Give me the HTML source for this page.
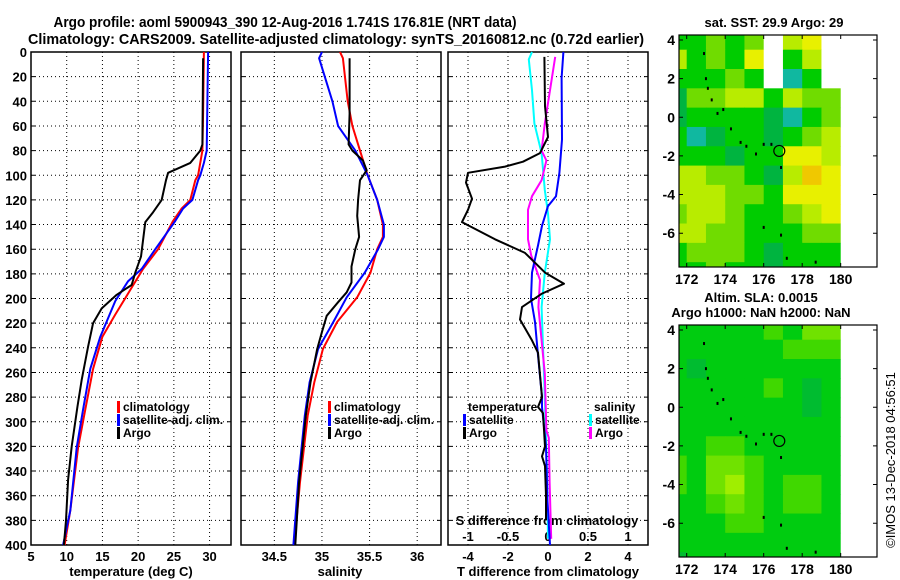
<!DOCTYPE html>
<html><head><meta charset="utf-8"><style>
html,body{margin:0;padding:0;background:#fff;}
svg{display:block;font-family:"Liberation Sans",Arial,sans-serif;}
.b{font-weight:bold;}
</style></head><body>
<svg id="fig" width="900" height="580" viewBox="0 0 900 580">
<text class="b" x="285" y="27" font-size="15" text-anchor="middle" textLength="463" lengthAdjust="spacingAndGlyphs">Argo profile: aoml 5900943_390 12-Aug-2016 1.741S 176.81E (NRT data)</text>
<text class="b" x="336" y="44" font-size="15" text-anchor="middle" textLength="616" lengthAdjust="spacingAndGlyphs">Climatology: CARS2009. Satellite-adjusted climatology: synTS_20160812.nc (0.72d earlier)</text>
<text class="b" x="131" y="576" font-size="13" text-anchor="middle">temperature (deg C)</text>
<text class="b" x="340" y="576" font-size="13" text-anchor="middle">salinity</text>
<text class="b" x="548" y="576" font-size="13" text-anchor="middle">T difference from climatology</text>
<text class="b" x="547" y="525" font-size="13" text-anchor="middle">S difference from climatology</text>
<text class="b" x="774" y="27" font-size="13" text-anchor="middle">sat. SST: 29.9 Argo: 29</text>
<text class="b" x="761" y="302" font-size="13" text-anchor="middle">Altim. SLA: 0.0015</text>
<text class="b" x="761" y="317" font-size="13" text-anchor="middle">Argo h1000: NaN h2000: NaN</text>
<text x="0" y="0" font-size="13" text-anchor="middle" transform="translate(895,460) rotate(-90)">©IMOS 13-Dec-2018 04:56:51</text>
<g id="g"></g>
</svg>
<script>
// ---- chart data ----
const depthTicks=[0,20,40,60,80,100,120,140,160,180,200,220,240,260,280,300,320,340,360,380,400];
const tempTicks=[5,10,15,20,25,30];
const salTicks=[34.5,35,35.5,36];
const salTickLabels=['34.5','35','35.5','36'];
const tdiffTicks=[-4,-2,0,2,4];
const sdiffTicks=[-1,-0.5,0,0.5,1];
const sdiffTickLabels=['-1','-0.5','0','0.5','1'];
// temperature profiles
const climTDepth=[0,50,80,100,104,120,127,137,160,176,193,213,231,257,290,321,372,400];
const climTVal=[29.2,29.1,29.0,28.4,28.0,27.3,26.1,24.9,22.8,20.7,18.9,16.8,15.0,13.7,12.6,11.6,10.5,9.7];
const satTDepth=[0,80,90,100,104,120,127,137,160,176,186,202,231,257,290,321,372,400];
const satTVal=[29.8,29.6,29.2,28.7,28.4,27.6,26.3,25.2,22.4,20.5,18.6,16.8,14.7,13.3,12.3,11.4,10.5,9.5];
const argoTDepth=[5,75,80,90,98,104,120,130,138,166,179,189,197,208,220,239,266,288,320,347,380,400];
const argoTVal=[29.1,29.0,28.7,27.3,24.2,23.9,23.3,22.1,21.0,20.4,19.6,19.1,17.0,14.9,13.7,13.0,12.1,11.5,10.7,10.2,9.9,9.6];
// salinity profiles
const climSDepth=[0,5,40,60,80,100,120,140,150,160,179,199,219,241,268,295,349,400];
const climSVal=[35.19,35.22,35.27,35.32,35.40,35.48,35.58,35.64,35.64,35.58,35.51,35.37,35.16,35.01,34.92,34.85,34.77,34.71];
const satSDepth=[0,5,20,40,60,80,100,120,140,150,160,179,199,219,241,268,295,349,400];
const satSVal=[35.0,34.97,35.03,35.11,35.17,35.35,35.48,35.58,35.65,35.65,35.59,35.45,35.26,35.12,34.96,34.87,34.82,34.75,34.70];
const argoSDepth=[5,50,75,80,88,96,104,120,133,150,160,174,187,195,203,214,227,241,268,295,349,400];
const argoSVal=[35.29,35.29,35.28,35.32,35.43,35.47,35.40,35.38,35.37,35.39,35.35,35.31,35.31,35.26,35.17,35.05,35.00,34.95,34.88,34.83,34.76,34.72];
// differences from climatology
const argoTdDepth=[4,44,69,82,89,93,98,106,119,128,138,152,163,179,188,196,207,217,234,244,280,288,293,320,328,336,360,380];
const argoTdVal=[-0.18,-0.15,0,-0.4,-1.25,-2.15,-4.0,-4.1,-3.8,-4.0,-4.3,-2.65,-1.15,-0.15,0.8,-0.3,-1.3,-1.4,-0.8,-0.5,-0.3,-0.5,-0.25,-0.15,-0.3,-0.15,-0.1,-0.1];
const satTdDepth=[0,21,71,98,117,125,141,157,179,200,219,246,280,288,320,363,400];
const satTdVal=[0.77,0.68,0.7,0.57,0.4,0,-0.3,-0.5,-0.8,-0.85,-0.65,-0.5,-0.3,-0.3,-0.1,-0.03,0.1];
const argoSdDepth=[4,31,58,80,88,104,117,128,152,165,185,207,234,261,307,313,349,395];
const argoSdVal=[0.09,0.025,-0.04,-0.08,-0.02,-0.08,-0.2,-0.25,-0.25,-0.21,-0.1,-0.12,-0.08,-0.04,-0.02,0.01,0.02,0.04];
const satSdDepth=[0,6,31,58,82,112,131,152,179,207,261,280,349,395];
const satSdVal=[-0.2,-0.24,-0.2,-0.17,-0.08,-0.04,0,0.025,-0.04,-0.08,-0.05,-0.04,-0.01,0];
// maps (1-degree cells)
const mapLons=[171.5,172.5,173.5,174.5,175.5,176.5,177.5,178.5,179.5];
const mapLats=[4,3,2,1,0,-1,-2,-3,-4,-5,-6,-7,-8];
const sstGrid=[
[1,1,2,1,2,9,3,4,9],
[3,1,2,1,4,9,1,3,9],
[1,1,1,2,1,9,-1,1,9],
[0,2,2,3,3,1,3,2,2],
[0,1,1,1,1,0,-1,1,2],
[1,-1,0,1,1,0,1,2,3],
[1,1,1,0,1,1,4,4,3],
[3,3,2,2,1,0,3,5,4],
[3,3,3,2,2,1,4,4,4],
[2,3,3,2,1,1,2,3,4],
[3,3,2,2,1,1,1,2,2],
[1,2,2,2,1,0,1,1,1],
[1,1,2,1,1,0,1,1,1]];
const slaGrid=[
[0,0,0,0,0,1,0,2,2],
[0,0,0,0,0,0,1,1,1],
[0,-1,0,0,0,0,0,0,0],
[0,0,0,0,0,1,0,-1,0],
[0,0,0,0,0,0,0,-1,0],
[0,0,0,0,0,0,0,0,0],
[0,0,1,1,0,0,0,0,0],
[1,0,2,2,1,0,0,0,0],
[1,0,2,3,1,0,1,1,0],
[0,0,1,2,1,0,1,1,0],
[0,0,0,1,1,0,0,0,0],
[0,0,0,0,0,0,0,0,0],
[-1,0,0,0,0,0,0,0,0]];
const islandLon=[172.9,173.0,173.1,173.3,173.6,173.9,174.3,174.8,175.1,175.6,176.0,176.4,176.9,176.0,176.9,177.2,178.7];
const islandLat=[3.3,2.0,1.5,0.9,0.2,0.4,-0.6,-1.3,-1.5,-1.9,-1.4,-1.4,-2.6,-5.7,-6.1,-7.3,-7.5];
const argoLon=[176.81];
const argoLat=[-1.741];

// ---- drawing ----
const NS='http://www.w3.org/2000/svg';
const G=document.getElementById('g');
function mk(tag,attrs,parent){const e=document.createElementNS(NS,tag);for(const k in attrs)e.setAttribute(k,attrs[k]);(parent||G).appendChild(e);return e;}
const TOP=52,BOT=545;
const yD=d=>TOP+d*(BOT-TOP)/400;
const x1=t=>31+(t-5)*200/28;
const x2=s=>241+(s-34.15)*200/2.1;
const x3=t=>448+(t+5)*20;
const x3s=s=>448+(s+1.25)*80;

function panel(name,L,R,xs,ticks,labels,labelY,showY){
  for(const d of depthTicks){
    const y=yD(d);
    if(d>0&&d<400){
      let e=mk('line',{x1:L,x2:R,y1:y,y2:y,stroke:'#000','stroke-width':1,'stroke-dasharray':'1 3'});
      
      
    }
    let t=mk('path',{d:`M${L},${y}h4M${R},${y}h-4`,stroke:'#000','stroke-width':1});
    
    
    if(showY){
      let lb=mk('text',{x:L-4,y:y+5,'font-size':13,'text-anchor':'end','class':'b'});
      lb.textContent=d;
      
      
    }
  }
  ticks.forEach((v,i)=>{
    const x=xs(v);
    let e=mk('line',{x1:x,x2:x,y1:TOP,y2:BOT,stroke:'#000','stroke-width':1,'stroke-dasharray':'1 3'});
    
    
    if(labels){
      let lb=mk('text',{x:x,y:labelY,'font-size':13,'text-anchor':'middle','class':'b'});
      lb.textContent=labels[i];
      
      
    }
  });
  let f=mk('rect',{x:L,y:TOP,width:R-L,height:BOT-TOP,fill:'none',stroke:'#000','stroke-width':1.5});
  
  
}
panel('temperature-panel',31,231,x1,tempTicks,tempTicks,561,true);
panel('salinity-panel',241,441,x2,salTicks,salTickLabels,561,false);
panel('difference-panel',448,648,x3,tdiffTicks,tdiffTicks,561,false);
sdiffTicks.forEach((v,i)=>{
  let lb=mk('text',{x:x3s(v),y:541,'font-size':13,'text-anchor':'middle','class':'b'});
  lb.textContent=sdiffTickLabels[i];
  
  
});

function line(name,depths,vals,xs,color){
  const p=depths.map((d,i)=>(i?'L':'M')+xs(vals[i]).toFixed(1)+','+yD(d).toFixed(1)).join('');
  let e=mk('path',{d:p,fill:'none',stroke:color,'stroke-width':2,'stroke-linejoin':'round'});
  
  
}
line('climatology-temperature-line',climTDepth,climTVal,x1,'#f00');
line('satellite-temperature-line',satTDepth,satTVal,x1,'#00f');
line('argo-temperature-line',argoTDepth,argoTVal,x1,'#000');
line('climatology-salinity-line',climSDepth,climSVal,x2,'#f00');
line('satellite-salinity-line',satSDepth,satSVal,x2,'#00f');
line('argo-salinity-line',argoSDepth,argoSVal,x2,'#000');
line('satellite-s-diff-line',satSdDepth,satSdVal,x3s,'#0ff');
line('argo-s-diff-line',argoSdDepth,argoSdVal,x3s,'#f0f');
line('satellite-t-diff-line',satTdDepth,satTdVal,x3,'#00f');
line('argo-t-diff-line',argoTdDepth,argoTdVal,x3,'#000');

function legend(name,x,y,color,label){
  let r=mk('rect',{x:x,y:y-10,width:3,height:12,fill:color});
  
  
  let t=mk('text',{x:x+6,y:y,'font-size':12,'class':'b'});
  t.textContent=label;
  
  
}
legend('legend-climatology-t',117,411,'#f00','climatology');
legend('legend-satellite-t',117,424,'#00f','satellite-adj. clim.');
legend('legend-argo-t',117,437,'#000','Argo');
legend('legend-climatology-s',328,411,'#f00','climatology');
legend('legend-satellite-s',328,424,'#00f','satellite-adj. clim.');
legend('legend-argo-s',328,437,'#000','Argo');
let lt=mk('text',{x:468,y:411,'font-size':12,'class':'b'});
lt.textContent='temperature';


let ls=mk('text',{x:594,y:411,'font-size':12,'class':'b'});
ls.textContent='salinity';


legend('legend-satellite-tdiff',463,424,'#00f','satellite');
legend('legend-argo-tdiff',463,437,'#000','Argo');
legend('legend-satellite-sdiff',589,424,'#0ff','satellite');
legend('legend-argo-sdiff',589,437,'#f0f','Argo');

// maps
const sstColors={'-1':'#10b8a0','0':'#00b440','1':'#00cc00','2':'#70dc00','3':'#b8ec00','4':'#e8f000','5':'#f0c800','9':'#ffffff'};
const slaColors={'-1':'#00bc30','0':'#00cc10','1':'#40d800','2':'#70e200','3':'#a0ee00'};
function map(name,top,bot,grid,colors){
  const L=679,R=877;
  const mx=lon=>L+(lon-171.6)*19.25;
  const my=lat=>top+(4.26-lat)*(bot-top)/12.01;
  const cid=name+'-clip';
  const cp=mk('clipPath',{id:cid});
  mk('rect',{x:L,y:top,width:mx(180)-L,height:bot-top},cp);
  const cg=mk('g',{'clip-path':`url(#${cid})`});
  
  
  mapLats.forEach((lat,i)=>mapLons.forEach((lon,j)=>{
    const x0=mx(lon-0.5),y0=my(lat+0.5);
    let c=mk('rect',{x:x0,y:y0,width:mx(lon+0.5)-x0+0.5,height:my(lat-0.5)-y0+0.5,fill:colors[grid[i][j]]},cg);
    
    
  }));
  islandLon.forEach((lon,i)=>{
    let d=mk('rect',{x:mx(islandLon[i])-1,y:my(islandLat[i])-1.5,width:2,height:3,fill:'#000'});
    
    
  });
  let c=mk('circle',{cx:mx(argoLon[0]),cy:my(argoLat[0]),r:5.5,fill:'none',stroke:'#000','stroke-width':1.2});
  
  
  [4,2,0,-2,-4,-6].forEach(lat=>{
    const y=my(lat);
    let t=mk('path',{d:`M${L},${y}h4M${R},${y}h-4`,stroke:'#000'});
    
    
    let lb=mk('text',{x:L-4,y:y+5,'font-size':14,'text-anchor':'end','class':'b'});
    lb.textContent=lat;
    
    
  });
  [172,174,176,178,180].forEach(lon=>{
    const x=mx(lon);
    let t=mk('path',{d:`M${x},${top}v4M${x},${bot}v-4`,stroke:'#000'});
    
    
    let lb=mk('text',{x:x,y:bot+17,'font-size':14,'text-anchor':'middle','class':'b'});
    lb.textContent=lon;
    
    
  });
  let f=mk('rect',{x:L,y:top,width:R-L,height:bot-top,fill:'none',stroke:'#000','stroke-width':1.2});
  
  
}
map('sst-map',35,267,sstGrid,sstColors);
map('sla-map',325,557,slaGrid,slaColors);
</script>
</body></html>
